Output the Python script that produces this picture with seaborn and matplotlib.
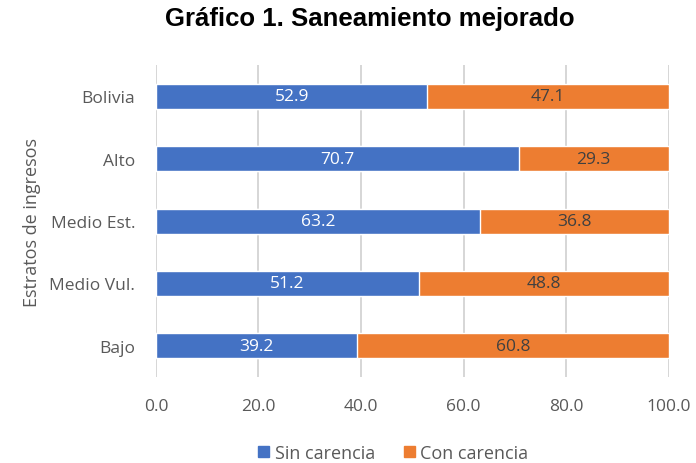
import pandas as pd
import matplotlib.pyplot as plt
import seaborn as sns
from matplotlib.patches import Patch

# Data
categories = ['Bolivia', 'Alto', 'Medio Est.', 'Medio Vul.', 'Bajo']
sin_carencia = [52.9, 70.7, 63.2, 51.2, 39.2]
con_carencia = [47.1, 29.3, 36.8, 48.8, 60.8]

blue = '#4472C4'
orange = '#ED7D31'
text_gray = '#595959'

df = pd.DataFrame({'estrato': categories, 'sin': sin_carencia, 'con': con_carencia})
df['total'] = df['sin'] + df['con']

sns.set_style('white')
plt.rcParams['font.family'] = ['Open Sans', 'DejaVu Sans']

fig = plt.figure(figsize=(6.96, 4.64), dpi=100)
ax = fig.add_axes([0.224, 0.185, 0.737, 0.673])

# stacked: full length in orange, blue part drawn on top
sns.barplot(data=df, y='estrato', x='total', color=orange, orient='h',
            width=0.4, saturation=1, ax=ax, zorder=2)
sns.barplot(data=df, y='estrato', x='sin', color=blue, orient='h',
            width=0.4, saturation=1, ax=ax, zorder=3)

# value labels
for i, row in df.iterrows():
    ax.text(row['sin'] / 2, i, f"{row['sin']:.1f}", ha='center', va='center',
            color='white', fontsize=12.5)
    ax.text(row['sin'] + row['con'] / 2, i, f"{row['con']:.1f}", ha='center',
            va='center', color='#404040', fontsize=12.5)

ax.set_xlim(0, 100)
ax.set_ylim(4.5, -0.5)
ax.set_xticks([0, 20, 40, 60, 80, 100])
ax.set_xticklabels([f'{v:.1f}' for v in [0, 20, 40, 60, 80, 100]])
ax.xaxis.grid(True, color='#D0D0D0', linewidth=1.2, zorder=0)
ax.set_axisbelow(True)
for s in ax.spines.values():
    s.set_visible(False)
ax.tick_params(axis='both', length=0, labelsize=12.5, labelcolor=text_gray)
ax.tick_params(axis='x', pad=15)
ax.tick_params(axis='y', pad=15)
ax.set_xlabel('')
ax.set_ylabel('Estratos de ingresos', fontsize=13, color=text_gray, labelpad=6)

fig.text(0.532, 0.958, 'Gráfico 1. Saneamiento mejorado', fontsize=18.5, fontweight='bold',
         family='Liberation Sans', ha='center', va='center', color='black')

handles = [Patch(color=blue, label='Sin carencia'), Patch(color=orange, label='Con carencia')]
leg = fig.legend(handles=handles, loc='lower center', bbox_to_anchor=(0.565, -0.032),
                 ncol=2, frameon=False, fontsize=13, handlelength=0.6, handleheight=0.6,
                 handletextpad=0.3, columnspacing=1.6)
for t in leg.get_texts():
    t.set_color(text_gray)

fig.savefig('out.png', dpi=100)
